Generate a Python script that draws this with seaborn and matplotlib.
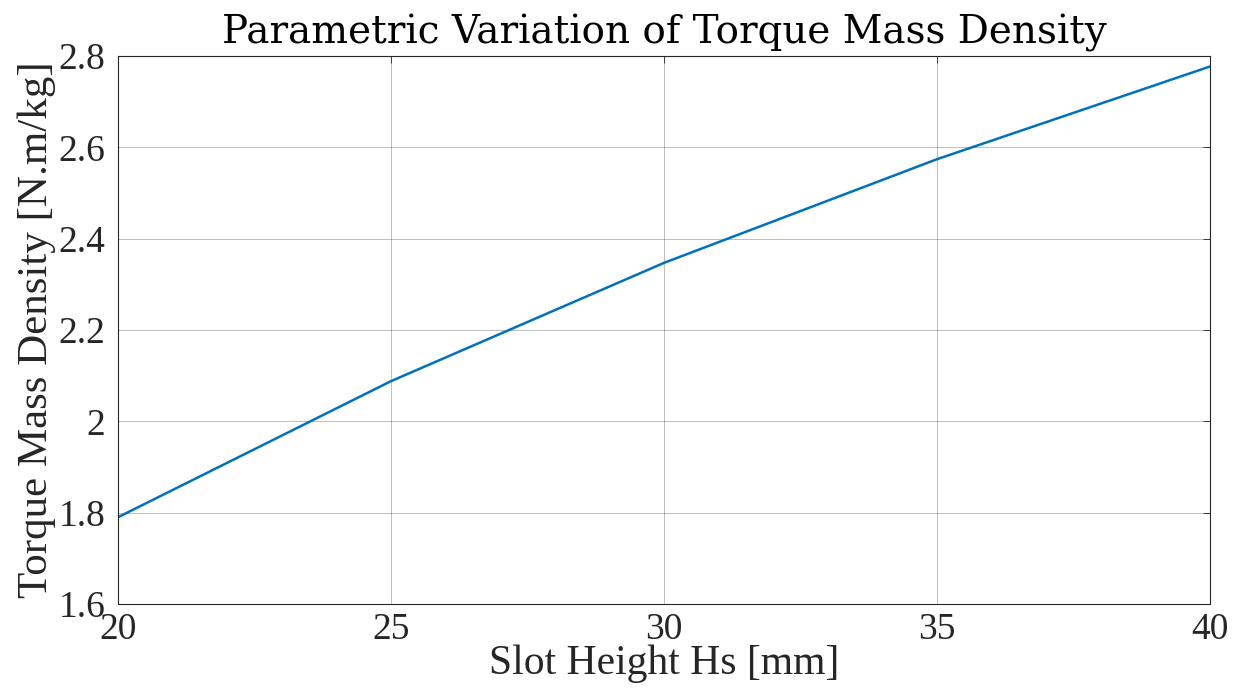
import numpy as np
import pandas as pd
import matplotlib
matplotlib.use('Agg')
import matplotlib.pyplot as plt
import seaborn as sns

# values
slot_height_mm = [20, 25, 30, 35, 40]
torque_mass_density = [1.790, 2.088, 2.347, 2.574, 2.777]
x_ticks = [20, 25, 30, 35, 40]
y_ticks = [1.6, 1.8, 2.0, 2.2, 2.4, 2.6, 2.8]
y_tick_labels = ['1.6', '1.8', '2', '2.2', '2.4', '2.6', '2.8']

df = pd.DataFrame({'Hs': slot_height_mm, 'TMD': torque_mass_density})

sns.set_style('white')
plt.rcParams['font.family'] = ['Liberation Serif', 'DejaVu Serif']

fig = plt.figure(figsize=(12.44, 6.93), dpi=100)
ax = fig.add_axes([118 / 1244, 1 - 604 / 693, (1210 - 118) / 1244, (604 - 56) / 693])

sns.lineplot(data=df, x='Hs', y='TMD', ax=ax, color='#0072BD', linewidth=1.8)

ax.set_xlim(20, 40)
ax.set_ylim(1.6, 2.8)
ax.set_xticks(x_ticks)
ax.set_xticklabels([str(v) for v in x_ticks])
ax.set_yticks(y_ticks)
ax.set_yticklabels(y_tick_labels)
ax.tick_params(direction='in', length=5, width=0.6, colors='#262626',
               labelsize=27, top=True, right=True)
ax.tick_params(axis='y', pad=9)
ax.tick_params(axis='x', pad=6)
ax.grid(True, color='#262626', alpha=0.3, linewidth=0.7)
for s in ax.spines.values():
    s.set_color('#262626')
    s.set_linewidth(0.8)

ax.set_xlabel('Slot Height Hs [mm]', fontsize=30, color='#262626', labelpad=-2)
ax.set_ylabel('Torque Mass Density [N.m/kg]', fontsize=31, color='#262626', labelpad=2)
ax.set_title('Parametric Variation of Torque Mass Density', fontsize=28,
             family=['DejaVu Serif'], color='black', pad=9)

fig.savefig('out.png', dpi=100)
